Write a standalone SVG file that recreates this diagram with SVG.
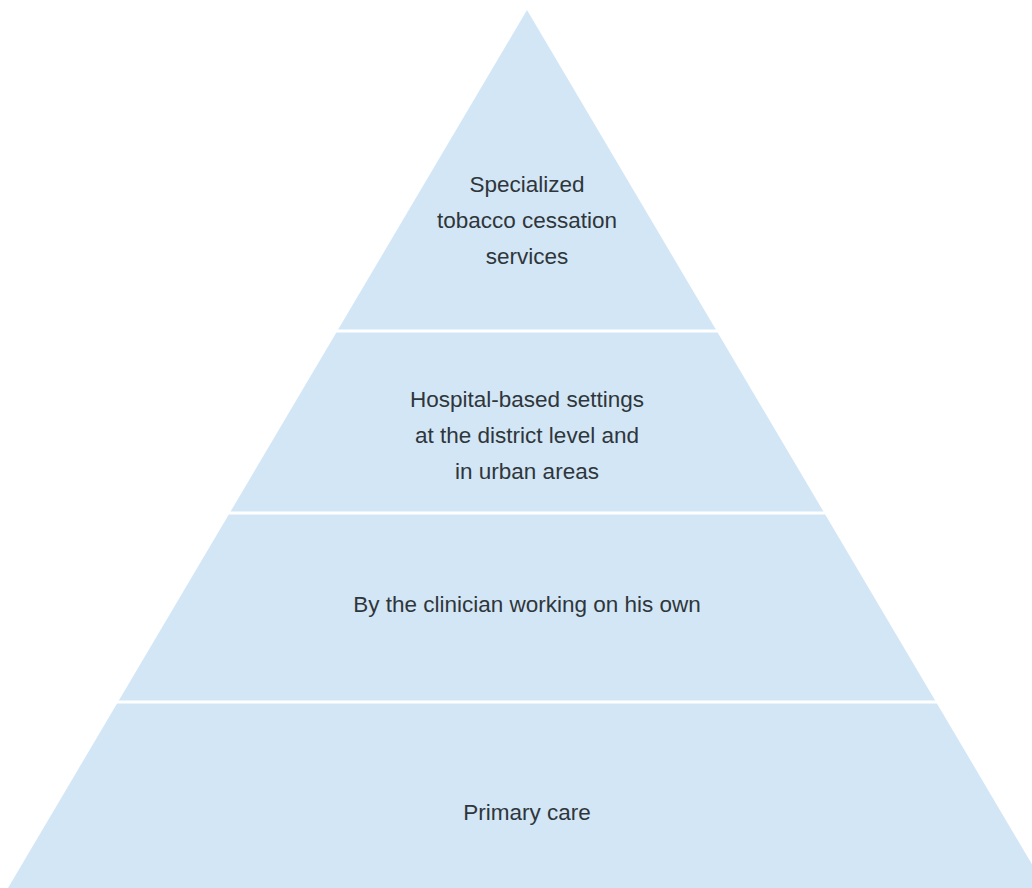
<svg xmlns="http://www.w3.org/2000/svg" width="1032" height="888" viewBox="0 0 1032 888">
<style>
.tier{fill:#d3e6f6;}
.sep{stroke:#ffffff;stroke-width:3;}
.lbl{font-family:"Liberation Sans",Arial,sans-serif;font-size:22.5px;fill:#2f363b;text-anchor:middle;}
</style>
<rect width="1032" height="888" fill="#ffffff"/>
<g id="pyramid">
<polygon class="tier" points="527,10 1046,888 8,888"/>
</g>
<g id="connectors">
<line class="sep" x1="300" y1="331" x2="760" y2="331"/>
<line class="sep" x1="200" y1="513" x2="860" y2="513"/>
<line class="sep" x1="90" y1="702" x2="970" y2="702"/>
</g>
<g id="tier1">
<text class="lbl" x="527" y="192">Specialized</text>
<text class="lbl" x="527" y="228">tobacco cessation</text>
<text class="lbl" x="527" y="264">services</text>
</g>
<g id="tier2">
<text class="lbl" x="527" y="407">Hospital-based settings</text>
<text class="lbl" x="527" y="443">at the district level and</text>
<text class="lbl" x="527" y="479">in urban areas</text>
</g>
<g id="tier3">
<text class="lbl" x="527" y="612">By the clinician working on his own</text>
</g>
<g id="tier4">
<text class="lbl" x="527" y="820">Primary care</text>
</g>
</svg>
